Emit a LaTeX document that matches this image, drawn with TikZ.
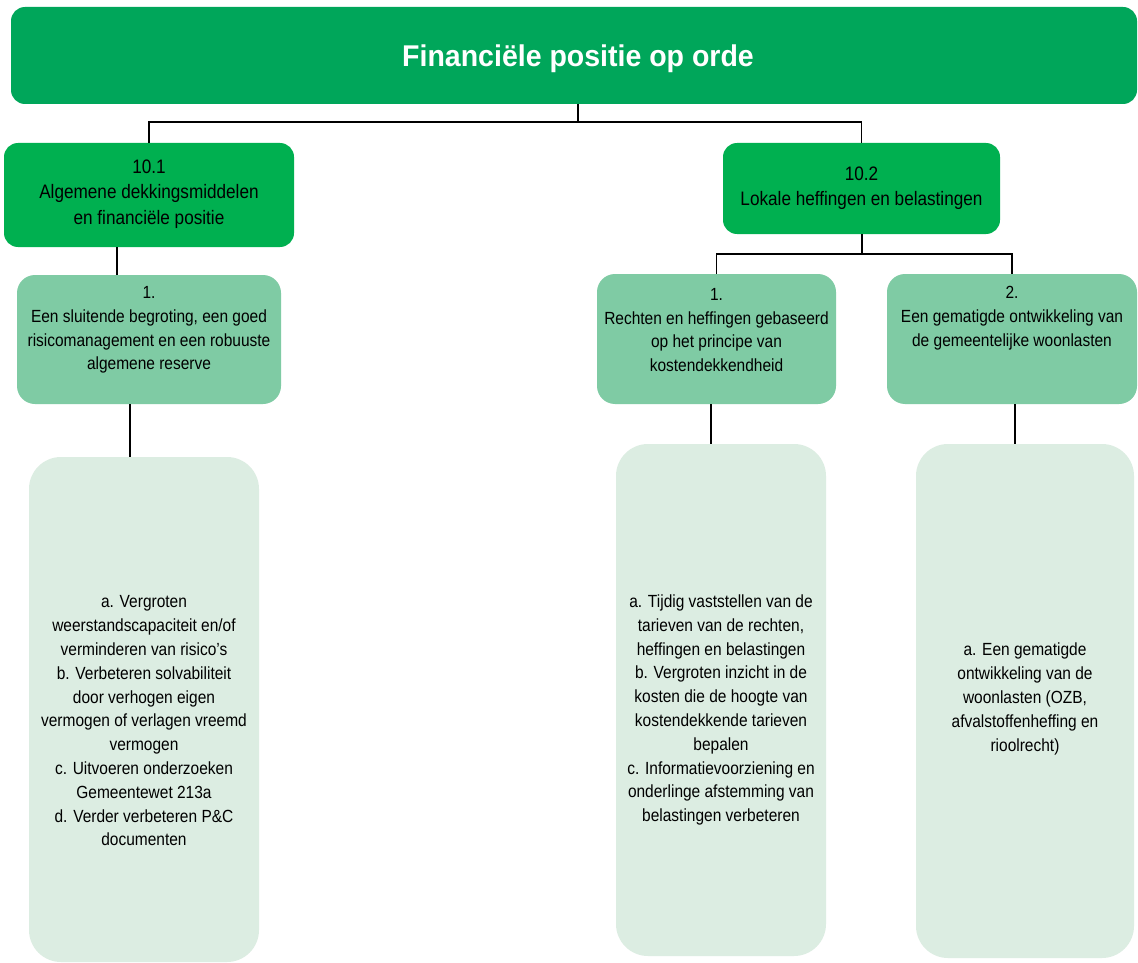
\documentclass[tikz,border=0pt]{standalone}
\usepackage{fontspec}
\setmainfont{Liberation Sans}[FakeStretch=0.88]
\newfontfamily\titlefont{Liberation Sans}[FakeStretch=0.95]
\definecolor{titlegreen}{RGB}{0,166,90}
\definecolor{midgreen}{RGB}{0,176,80}
\definecolor{lightgreen}{RGB}{127,203,164}
\definecolor{palegreen}{RGB}{220,237,226}
\tikzset{
  boxbase/.style={draw=none, inner sep=0pt, outer sep=0pt},
  titlebox/.style={boxbase, fill=titlegreen, rounded corners=14pt},
  midbox/.style={boxbase, fill=midgreen, rounded corners=14pt},
  lightbox/.style={boxbase, fill=lightgreen, rounded corners=18pt},
  palebox/.style={boxbase, fill=palegreen, rounded corners=32pt},
  titletext/.style={inner sep=0pt, text=white, font=\titlefont\bfseries\fontsize{30}{34}\selectfont},
  midtext/.style={inner sep=0pt, align=center, font=\fontsize{19.5}{25.5}\selectfont},
  bodytext/.style={inner sep=0pt, align=center, font=\fontsize{17.6}{23.8}\selectfont},
  conn/.style={draw=black, line width=1.2pt}
}
\begin{document}
\begin{tikzpicture}[x=1pt,y=-1pt]
\useasboundingbox (0,0) rectangle (1138,963);
\fill[white] (0,0) rectangle (1138,963);

% boxes
\node[titlebox, minimum width=1126pt, minimum height=97pt] (title) at (574,55.5) {};
\node[midbox, minimum width=290pt, minimum height=104pt] (n101) at (149,195) {};
\node[midbox, minimum width=277pt, minimum height=91pt] (n102) at (861.5,188.5) {};
\node[lightbox, minimum width=264pt, minimum height=129pt] (b1) at (149,339.5) {};
\node[lightbox, minimum width=239pt, minimum height=130pt] (r1) at (716.5,339) {};
\node[lightbox, minimum width=250pt, minimum height=130pt] (r2) at (1012,339) {};
\node[palebox, minimum width=230pt, minimum height=505pt] (bl) at (144,709.5) {};
\node[palebox, minimum width=210pt, minimum height=512pt] (br1) at (721,700) {};
\node[palebox, minimum width=218pt, minimum height=514pt] (br2) at (1025,701) {};

% texts
\node[titletext] (ttitle) at (578,59) {Financiële positie op orde};
\node[midtext] (t101) at (149,194) {10.1\\Algemene dekkingsmiddelen\\en financiële positie};
\node[midtext] (t102) at (861.5,188) {10.2\\Lokale heffingen en belastingen};
\node[bodytext] (tb1) at (149,330) {1.\\Een sluitende begroting, een goed\\risicomanagement en een robuuste\\algemene reserve};
\node[bodytext] (tr1) at (716.5,330) {1.\\Rechten en heffingen gebaseerd\\op het principe van\\kostendekkendheid};
\node[bodytext] (tr2) at (1012,318) {2.\\Een gematigde ontwikkeling van\\de gemeentelijke woonlasten};
\node[bodytext] (tbl) at (144,721) {a. Vergroten\\weerstandscapaciteit en/of\\verminderen van risico’s\\b. Verbeteren solvabiliteit\\door verhogen eigen\\vermogen of verlagen vreemd\\vermogen\\c. Uitvoeren onderzoeken\\Gemeentewet 213a\\d. Verder verbeteren P\&C\\documenten};
\node[bodytext] (tbr1) at (721,710) {a. Tijdig vaststellen van de\\tarieven van de rechten,\\heffingen en belastingen\\b. Vergroten inzicht in de\\kosten die de hoogte van\\kostendekkende tarieven\\bepalen\\c. Informatievoorziening en\\onderlinge afstemming van\\belastingen verbeteren};
\node[bodytext] (tbr2) at (1025,699) {a. Een gematigde\\ontwikkeling van de\\woonlasten (OZB,\\afvalstoffenheffing en\\rioolrecht)};

% connectors
\coordinate (j1) at (578,122);
\coordinate (j2) at (862,254);
\coordinate (c1) at (117,0);
\coordinate (c2) at (130,0);
\coordinate (c3) at (711,0);
\coordinate (c4) at (1015,0);
\draw[conn] (title.south -| j1) -- (j1);
\draw[conn] (n101.north) |- (j1) -| (n102.north);
\draw[conn] (n101.south -| c1) -- (b1.north -| c1);
\draw[conn] (n102.south -| j2) -- (j2);
\draw[conn] (r1.north) |- (j2) -| (r2.north);
\draw[conn] (b1.south -| c2) -- (bl.north -| c2);
\draw[conn] (r1.south -| c3) -- (br1.north -| c3);
\draw[conn] (r2.south -| c4) -- (br2.north -| c4);
\end{tikzpicture}
\end{document}
